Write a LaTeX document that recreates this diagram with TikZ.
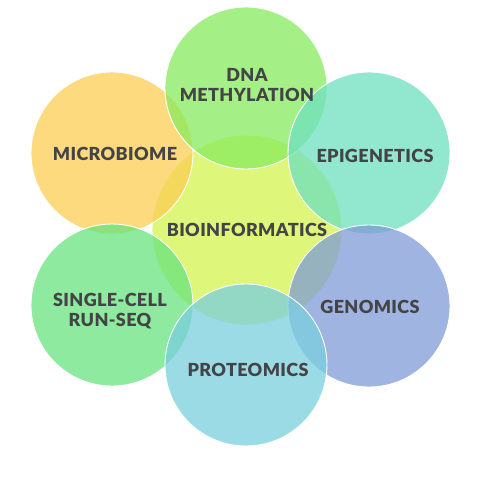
\documentclass[tikz,border=0pt]{standalone}
\usepackage{fontspec}
\setmainfont{Lato}[UprightFont=* Black, LetterSpace=2]
\definecolor{cdna}{RGB}{136,235,94}
\definecolor{cmic}{RGB}{252,206,82}
\definecolor{cepi}{RGB}{110,224,191}
\definecolor{cbio}{RGB}{212,244,78}
\definecolor{csc}{RGB}{103,228,126}
\definecolor{cgen}{RGB}{127,156,214}
\definecolor{cpro}{RGB}{122,207,222}
\definecolor{ctext}{RGB}{68,68,70}
\tikzset{
  blob/.style={draw=white, line width=0.9pt, fill opacity=0.75},
  lbl/.style={text=ctext, font=\fontsize{18}{19.5}\selectfont, align=center, inner sep=0pt}
}
\begin{document}
\begin{tikzpicture}[x=1pt,y=-1pt]
\useasboundingbox (0,0) rectangle (480,480);
\fill[white] (0,0) rectangle (480,480);
\draw[blob, fill=cbio] (247,230) circle (95);
\draw[blob, fill=cmic] (112,153) circle (81);
\draw[blob, fill=cdna] (246,88) circle (81);
\draw[blob, fill=cepi] (369,153) circle (81);
\draw[blob, fill=csc] (112,305) circle (81);
\draw[blob, fill=cgen] (369,306) circle (81);
\draw[blob, fill=cpro] (246,365) circle (81);
\node[lbl] (dna) at (247,85) {DNA\\METHYLATION};
\node[lbl] (mic) at (115,154) {MICROBIOME};
\node[lbl] (epi) at (375,156) {EPIGENETICS};
\node[lbl] (bio) at (247,230) {BIOINFORMATICS};
\node[lbl] (sc) at (110,311) {SINGLE-CELL\\RUN-SEQ};
\node[lbl] (gen) at (370,307) {GENOMICS};
\node[lbl] (pro) at (248,370) {PROTEOMICS};
\end{tikzpicture}
\end{document}
